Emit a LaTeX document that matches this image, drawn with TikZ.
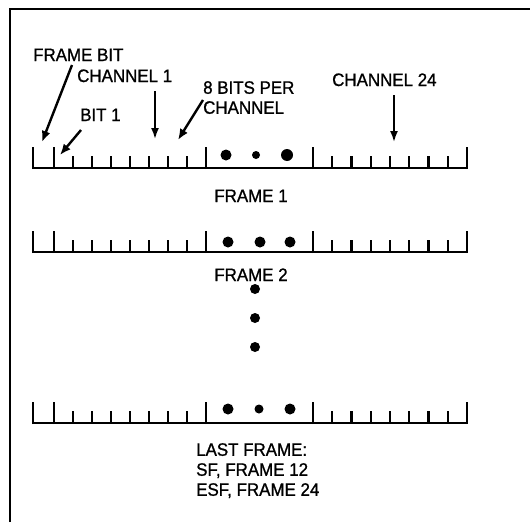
\documentclass[tikz,border=0pt]{standalone}
\usepackage{fontspec}
\setmainfont{Liberation Sans}
\newfontfamily\labelfont[FakeStretch=0.94, FakeBold=1]{Liberation Sans}
\usetikzlibrary{arrows.meta}

\tikzset{
  lbl/.style={inner sep=0pt, font=\labelfont\fontsize{18}{20}\selectfont},
  rule/.style={line width=2.4pt},
  tallbit/.style={line width=2.4pt},
  shortbit/.style={line width=2.2pt},
  pointer/.style={line width=2.4pt, -{Latex[length=11pt,width=9pt]}},
  vpointer/.style={line width=1.8pt, -{Latex[length=11pt,width=8pt]}},
}

% one frame: frame bit, channel 1, gap, channel 24
\newcommand{\framerow}[1]{%
  \begin{scope}[shift={(0,#1)}]
    \draw[rule] (33,0) -- (467,0);
    \foreach \x in {33,54,206,313,467}
      \draw[tallbit] (\x,1) -- (\x,-21);
    \foreach \k in {1,...,7} {
      \draw[shortbit] ({54+19*\k},0) -- ++(0,-12);
      \draw[shortbit] ({313+19.25*\k},0) -- ++(0,-12);
    }
  \end{scope}}

\begin{document}
\begin{tikzpicture}[x=1pt, y=-1pt]
    \useasboundingbox (0,0) rectangle (530,522);
    % border
    \draw[line width=2.4pt] (10,522) -- (10,9) -- (530,9);

    % frames
    \framerow{168}
    \framerow{252}
    \framerow{423}
    \fill (226,155) circle (5.5); \fill (256,155) circle (4); \fill (287,155) circle (6);
    \fill (228,242) circle (5.5); \fill (260,242) circle (5.5); \fill (290,242) circle (5.5);
    \fill (228,409) circle (5.5); \fill (259,409) circle (4.5); \fill (290,409) circle (5.5);
    \foreach \y in {289,318,347}
      \fill (255,\y) circle (5);

    % labels
    \node[lbl, anchor=base west] (framebit) at (33,61) {FRAME BIT};
    \node[lbl, anchor=base west] (chone) at (77,82) {CHANNEL 1};
    \node[lbl, anchor=base west] (bitone) at (80,121) {BIT 1};
    \node[lbl, anchor=north west, align=left] (eightbits) at (203,81) {8 BITS PER\\CHANNEL};
    \node[lbl, anchor=base west] (chlast) at (332,86) {CHANNEL 24};
    \node[lbl, anchor=base] (frameone) at (251,202) {FRAME 1};
    \node[lbl, anchor=base] (frametwo) at (251,281) {FRAME 2};
    \node[lbl, anchor=north west, align=left] (lastframe) at (196,443)
      {LAST FRAME:\\SF, FRAME 12\\ESF, FRAME 24};

    % pointers
    \coordinate (framebittail) at (72,65);
    \coordinate (framebittip) at (42,142);
    \coordinate (bitonetail) at (81,130);
    \coordinate (bitonetip) at (60,155);
    \coordinate (chonetail) at (155,91);
    \coordinate (chonetip) at (155,139);
    \coordinate (eightbitstail) at (203,100);
    \coordinate (eightbitstip) at (178,140);
    \coordinate (chlasttail) at (394,95);
    \coordinate (chlasttip) at (394,142);
    \draw[pointer] (framebittail) -- (framebittip);
    \draw[pointer] (bitonetail) -- (bitonetip);
    \draw[vpointer] (chonetail) -- (chonetip);
    \draw[pointer] (eightbitstail) -- (eightbitstip);
    \draw[vpointer] (chlasttail) -- (chlasttip);
\end{tikzpicture}
\end{document}
